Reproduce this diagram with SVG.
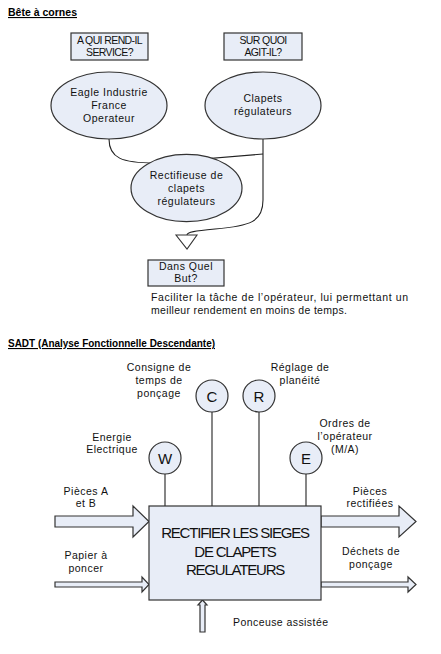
<svg xmlns="http://www.w3.org/2000/svg" width="441" height="654" viewBox="0 0 441 654">
<style>
.bg{fill:#fff}
.nd{fill:#e8edf7;stroke:#333;stroke-width:1.2}
.ln{fill:none;stroke:#222;stroke-width:1.1}
.t{font-family:"Liberation Sans",Arial,sans-serif;font-size:10.5px;fill:#111;text-anchor:middle;letter-spacing:0.5px}
.tl{font-family:"Liberation Sans",Arial,sans-serif;font-size:10.5px;fill:#111}
.tc{font-family:"Liberation Sans",Arial,sans-serif;font-size:10.5px;fill:#111;text-anchor:middle;letter-spacing:-0.6px}
.h{font-family:"Liberation Sans Narrow","Liberation Sans",Arial,sans-serif;font-size:11px;font-weight:bold;fill:#000;text-decoration:underline}
.big{font-family:"Liberation Sans",Arial,sans-serif;font-size:15px;fill:#111;text-anchor:middle;letter-spacing:-1.2px}
.ci{font-family:"Liberation Sans",Arial,sans-serif;font-size:15px;fill:#111;text-anchor:middle}
</style>
<rect class="bg" x="0" y="0" width="441" height="654"/>
<text class="h" x="8" y="16" textLength="69" lengthAdjust="spacingAndGlyphs">Bête à cornes</text>

<g id="connectors">
<path class="ln" d="M109,139 C109,158 122,163 155,163 L263,154"/>
<path class="ln" d="M263,139 L263,200 C263,222 250,226 215,229 C195,231 187,232 187,235"/>
<line class="ln" x1="165" y1="474" x2="165" y2="506"/>
<line class="ln" x1="212" y1="412" x2="212" y2="506"/>
<line class="ln" x1="259" y1="412" x2="259" y2="506"/>
<line class="ln" x1="306" y1="474" x2="306" y2="506"/>
</g>

<g id="q1"><rect class="nd" x="71" y="33" width="77" height="27"/>
<text class="tc" x="109.5" y="44">A QUI REND-IL</text><text class="tc" x="109.5" y="56">SERVICE?</text></g>
<g id="q2"><rect class="nd" x="224" y="33" width="78" height="27"/>
<text class="tc" x="263" y="44">SUR QUOI</text><text class="tc" x="263" y="56">AGIT-IL?</text></g>

<g id="e1"><ellipse class="nd" cx="109" cy="105.5" rx="58" ry="33.5"/>
<text class="t" x="109" y="96">Eagle Industrie</text><text class="t" x="109" y="109">France</text><text class="t" x="109" y="122">Operateur</text></g>
<g id="e2"><ellipse class="nd" cx="263" cy="105.5" rx="58" ry="33.5"/>
<text class="t" x="263" y="102">Clapets</text><text class="t" x="263" y="115">régulateurs</text></g>
<g id="e3"><ellipse class="nd" cx="186.5" cy="188" rx="55.5" ry="33.7"/>
<text class="t" x="186.5" y="179">Rectifieuse de</text><text class="t" x="186.5" y="192">clapets</text><text class="t" x="186.5" y="205">régulateurs</text></g>

<g id="tri"><polygon points="176,235 197,235 187,249" fill="#fff" stroke="#333" stroke-width="1.1"/></g>

<g id="q3"><rect class="nd" x="148" y="260" width="76" height="26"/>
<text class="t" x="186" y="270">Dans Quel</text><text class="t" x="186" y="282">But?</text></g>
<text class="tl" x="151" y="301" textLength="257">Faciliter la tâche de l’opérateur, lui permettant un</text>
<text class="tl" x="151" y="314" textLength="196">meilleur rendement en moins de temps.</text>

<text class="h" x="8" y="347" textLength="207" lengthAdjust="spacingAndGlyphs">SADT (Analyse Fonctionnelle Descendante)</text>

<g id="sadt-arrows">
<path class="nd" d="M55,516 L133,516 L133,506 L149,521.5 L133,537 L133,527 L55,527 Z"/>
<path class="nd" d="M55,582 L142,582 L142,577 L149,584.5 L142,592 L142,587 L55,587 Z"/>
<path class="nd" d="M321,516 L399,516 L399,506 L416,521.5 L399,537 L399,527 L321,527 Z"/>
<path class="nd" d="M321,582 L408,582 L408,577 L416,584.5 L408,592 L408,587 L321,587 Z"/>
<path class="nd" d="M200,632 L200,605 L198,605 L202.5,600 L207,605 L205,605 L205,632 Z"/>
</g>

<g id="box"><rect class="nd" x="149" y="506" width="172" height="94"/>
<text class="big" x="235" y="538">RECTIFIER LES SIEGES</text>
<text class="big" x="235" y="557">DE CLAPETS</text>
<text class="big" x="235" y="575">REGULATEURS</text></g>

<g id="C"><circle class="nd" cx="212" cy="396" r="16"/><text class="ci" x="212" y="401.5">C</text></g>
<g id="R"><circle class="nd" cx="259" cy="396" r="16"/><text class="ci" x="259" y="401.5">R</text></g>
<g id="W"><circle class="nd" cx="165" cy="458" r="16"/><text class="ci" x="165" y="463.5">W</text></g>
<g id="E"><circle class="nd" cx="306" cy="458" r="16"/><text class="ci" x="306" y="463.5">E</text></g>

<g id="labels">
<text class="t" x="159" y="371">Consigne de</text><text class="t" x="159" y="384">temps de</text><text class="t" x="159" y="397">ponçage</text>
<text class="t" x="300" y="371">Réglage de</text><text class="t" x="300" y="384">planéité</text>
<text class="t" x="112" y="441">Energie</text><text class="t" x="112" y="453">Electrique</text>
<text class="t" x="345" y="427">Ordres de</text><text class="t" x="345" y="440">l’opérateur</text><text class="t" x="345" y="453">(M/A)</text>
<text class="t" x="86" y="495">Pièces A</text><text class="t" x="86" y="507">et B</text>
<text class="t" x="86" y="559">Papier à</text><text class="t" x="86" y="572">poncer</text>
<text class="t" x="370" y="495">Pièces</text><text class="t" x="370" y="507">rectifiées</text>
<text class="t" x="371" y="555">Déchets de</text><text class="t" x="371" y="568">ponçage</text>
<text class="tl" x="233" y="626" textLength="95">Ponceuse assistée</text>
</g>
</svg>
